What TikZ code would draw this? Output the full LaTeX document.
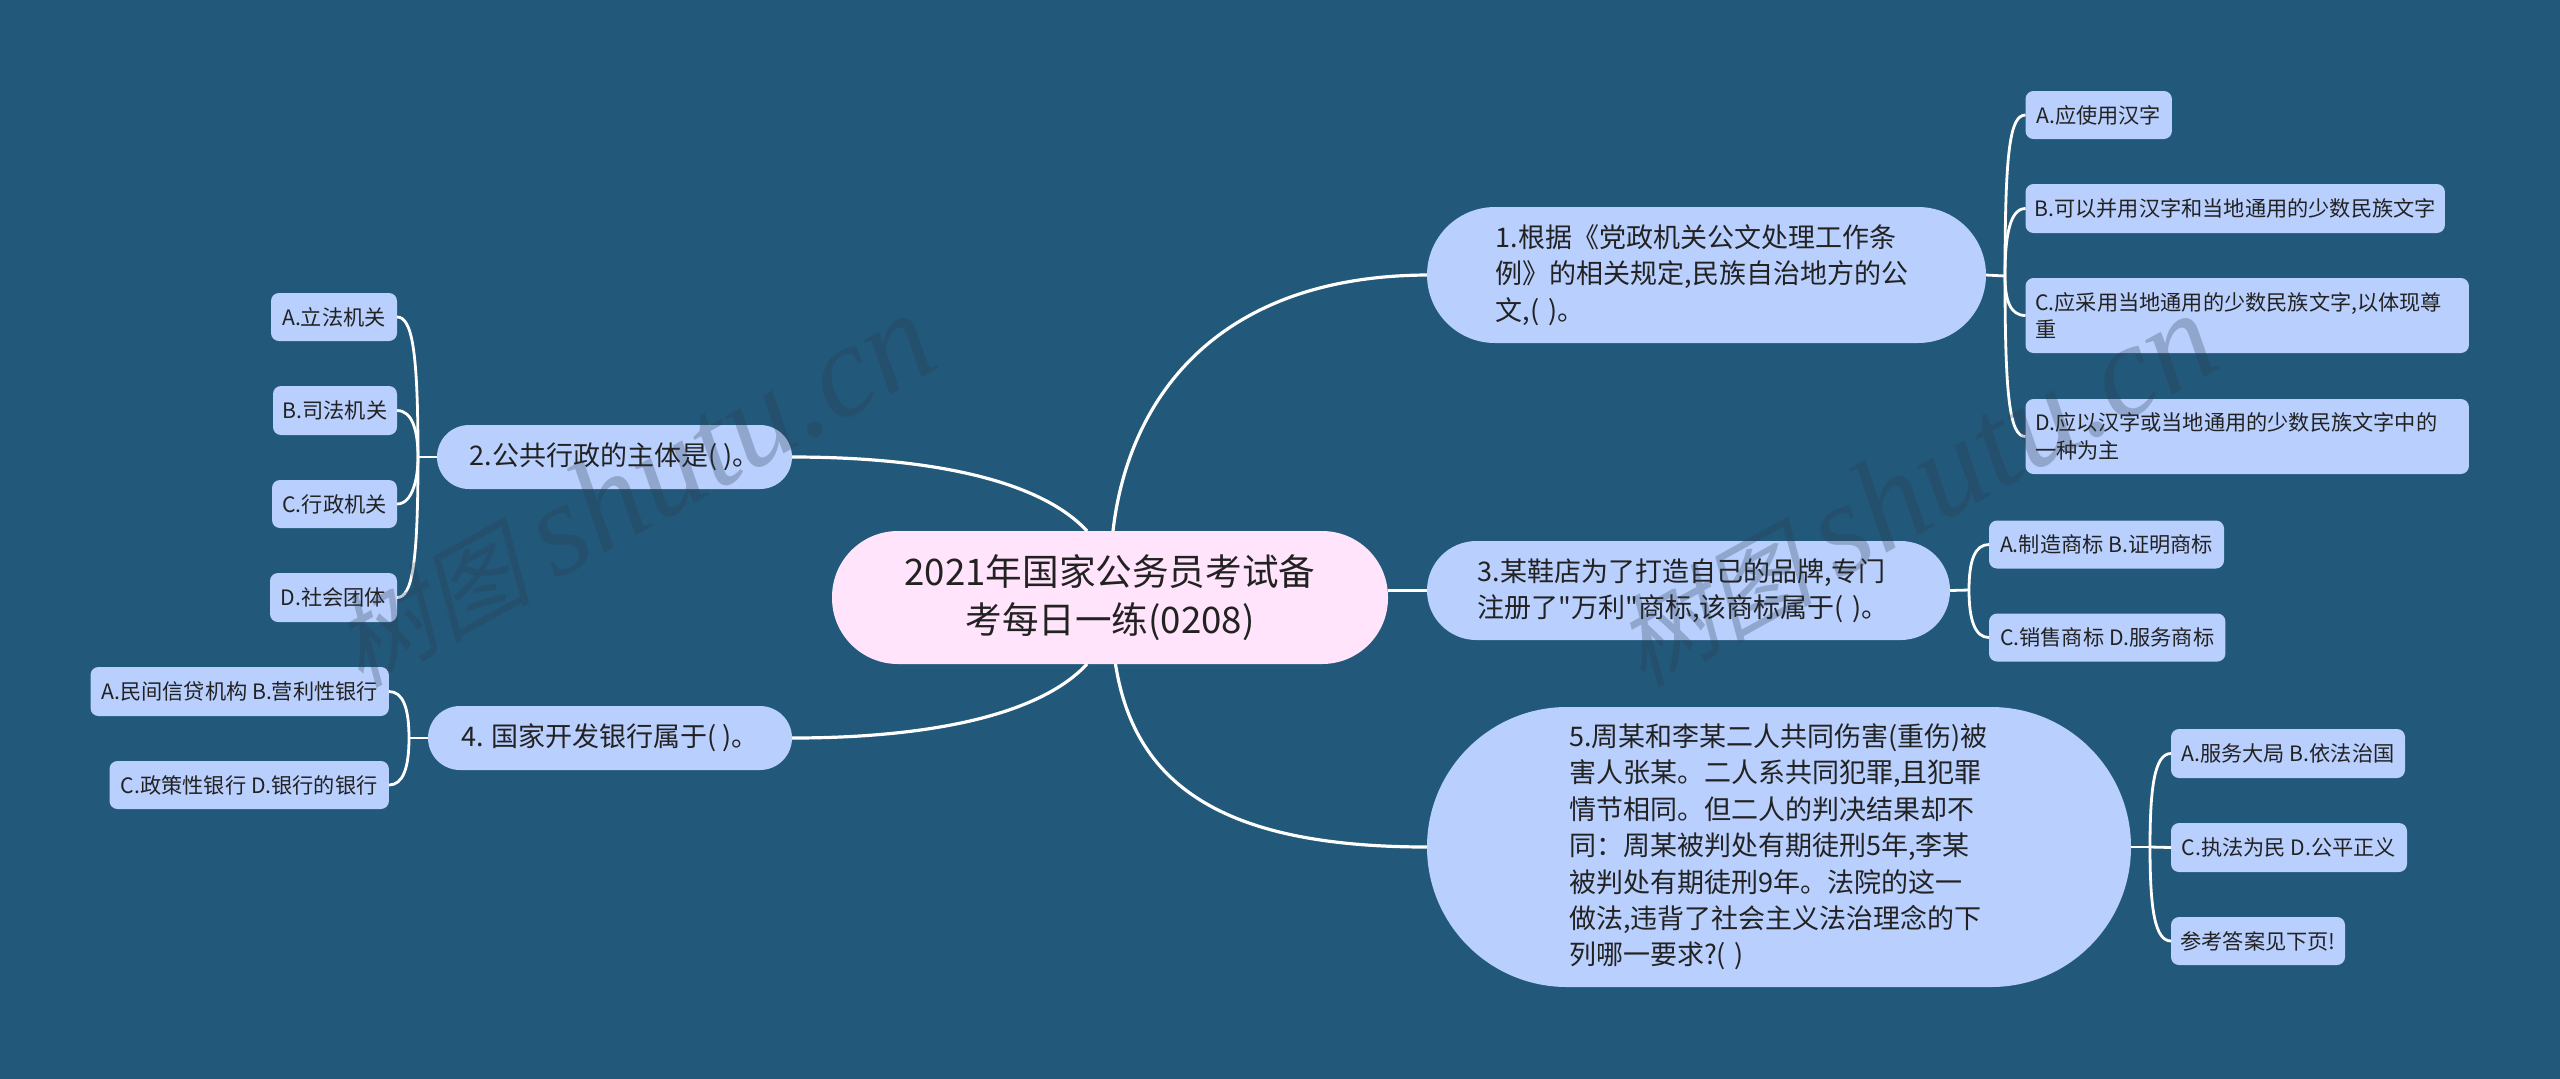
\documentclass[tikz,border=0pt]{standalone}
\usepackage{fontspec}
\newfontfamily\cjkf{Noto Sans CJK SC}
\setmainfont{Noto Sans CJK SC}
\newfontfamily\wmcjk[FakeSlant=0.25]{Noto Sans CJK SC}
\newfontfamily\wmlat{Liberation Serif}
\definecolor{bgc}{HTML}{22587A}
\definecolor{nodec}{HTML}{B9CFFD}
\definecolor{rootc}{HTML}{FFE4FC}
\definecolor{inkc}{HTML}{222222}
\definecolor{markc}{HTML}{2C3E50}
\tikzset{
  x=0.5pt,y=-0.5pt,
  box/.style={fill=nodec,text=inkc,inner sep=0pt,outer sep=0pt,align=center},
  rootbox/.style={fill=rootc,text=inkc,inner sep=0pt,outer sep=0pt,align=center,
     font=\cjkf\fontsize{18.3}{24}\selectfont,minimum width=278pt,minimum height=66.5pt,rounded corners=33pt},
  topic/.style={box,font=\cjkf\fontsize{13.5}{18.2}\selectfont},
  leaf/.style={box,font=\cjkf\fontsize{10.6}{13.8}\selectfont,rounded corners=4pt},
  wire/.style={draw=white,line width=1.6pt},
  thin wire/.style={draw=white,line width=1.4pt},
  mark text/.style={rotate=29,anchor=base,text=markc,opacity=0.28,inner sep=0pt}
}
\begin{document}
\begin{tikzpicture}
\useasboundingbox (0,0) rectangle (2560,1078);
\fill[bgc] (-6,-6) rectangle (2566,1084);
\coordinate (r1) at (1113,531);
\coordinate (r2) at (1087,531);
\coordinate (r4) at (1087,664);
\coordinate (r5) at (1115.5,664);
% root
\node[rootbox] (root) at (1110,597.5) {2021年国家公务员考试备\\考每日一练(0208)};
% topics
\node[topic,minimum width=279.5pt,minimum height=68pt,rounded corners=34pt,text width=211pt,align=left] (t1) at (1706.5,275) {1.根据《党政机关公文处理工作条\\例》的相关规定,民族自治地方的公\\文,( )。};
\node[topic,minimum width=177.5pt,minimum height=32pt,rounded corners=16pt] (t2) at (614.5,457) {2.公共行政的主体是( )。};
\node[topic,minimum width=261.5pt,minimum height=49.5pt,rounded corners=24.7pt,text width=211pt,align=left] (t3) at (1688.5,590.5) {3.某鞋店为了打造自己的品牌,专门\\注册了"万利"商标,该商标属于( )。};
\node[topic,minimum width=182pt,minimum height=32pt,rounded corners=16pt] (t4) at (610,738) {4. 国家开发银行属于( )。};
\node[topic,minimum width=352pt,minimum height=140pt,rounded corners=70pt,text width=210pt,align=left] (t5) at (1779,847) {5.周某和李某二人共同伤害(重伤)被\\害人张某。二人系共同犯罪,且犯罪\\情节相同。但二人的判决结果却不\\同：周某被判处有期徒刑5年,李某\\被判处有期徒刑9年。法院的这一\\做法,违背了社会主义法治理念的下\\列哪一要求?( )};
% leaves of topic 1
\node[leaf,minimum width=73.2pt,minimum height=24pt] (a1) at (2098.7,115) {A.应使用汉字};
\node[leaf,minimum width=209.7pt,minimum height=24.5pt] (a2) at (2235.2,208.5) {B.可以并用汉字和当地通用的少数民族文字};
\node[leaf,minimum width=221.7pt,minimum height=37.5pt,text width=212pt,align=left] (a3) at (2247.2,315.5) {C.应采用当地通用的少数民族文字,以体现尊\\重};
\node[leaf,minimum width=221.7pt,minimum height=37.5pt,text width=212pt,align=left] (a4) at (2247.2,436.5) {D.应以汉字或当地通用的少数民族文字中的\\一种为主};
% leaves of topic 2
\node[leaf,minimum width=63pt,minimum height=24pt] (b1) at (334,317) {A.立法机关};
\node[leaf,minimum width=62pt,minimum height=24.5pt] (b2) at (335,410.5) {B.司法机关};
\node[leaf,minimum width=62.5pt,minimum height=24pt] (b3) at (334.5,504) {C.行政机关};
\node[leaf,minimum width=63.5pt,minimum height=24.5pt] (b4) at (333.5,597.5) {D.社会团体};
% leaves of topic 3
\node[leaf,minimum width=117.5pt,minimum height=24pt] (c1) at (2106.5,544.5) {A.制造商标 B.证明商标};
\node[leaf,minimum width=118.2pt,minimum height=24pt] (c2) at (2107.2,637.5) {C.销售商标 D.服务商标};
% leaves of topic 4
\node[leaf,minimum width=149.2pt,minimum height=24.5pt] (d1) at (239.7,691.5) {A.民间信贷机构 B.营利性银行};
\node[leaf,minimum width=139.7pt,minimum height=24pt] (d2) at (249.2,785) {C.政策性银行 D.银行的银行};
% leaves of topic 5
\node[leaf,minimum width=117pt,minimum height=24.5pt] (e1) at (2288,753.5) {A.服务大局 B.依法治国};
\node[leaf,minimum width=118pt,minimum height=24.5pt] (e2) at (2289,847.5) {C.执法为民 D.公平正义};
\node[leaf,minimum width=87pt,minimum height=24pt] (e3) at (2258,941) {参考答案见下页!};
% junctions
\coordinate (j1) at (2005,276);
\coordinate (j2) at (418,457);
\coordinate (j3) at (1969,590);
\coordinate (j4) at (409,738);
\coordinate (j5) at (2150,847);
% root connectors
\draw[wire] (r1) .. controls (1128,400) and (1215,276) .. (t1.west);
\draw[wire] (r2) .. controls (1040,480) and (930,457) .. (t2.east);
\draw[wire] (root.east |- t3.west) -- (t3.west);
\draw[wire] (r4) .. controls (1040,715) and (930,738) .. (t4.east);
\draw[wire] (r5) .. controls (1135,790) and (1230,847) .. (t5.west);
% topic 1 connectors
\draw[thin wire] (t1.east) -- (j1);
\draw[thin wire] (j1) .. controls (2005,150) and (2010,115) .. (a1.west);
\draw[thin wire] (j1) .. controls (2005,235) and (2010,208.5) .. (a2.west);
\draw[thin wire] (j1) .. controls (2005,300) and (2010,315.5) .. (a3.west);
\draw[thin wire] (j1) .. controls (2005,400) and (2010,436.5) .. (a4.west);
% topic 2 connectors
\draw[thin wire] (t2.west) -- (j2);
\draw[thin wire] (j2) .. controls (418,350) and (412,317) .. (b1.east);
\draw[thin wire] (j2) .. controls (418,430) and (412,410.5) .. (b2.east);
\draw[thin wire] (j2) .. controls (418,480) and (412,504) .. (b3.east);
\draw[thin wire] (j2) .. controls (418,565) and (412,597.5) .. (b4.east);
% topic 3 connectors
\draw[thin wire] (t3.east) -- (j3);
\draw[thin wire] (j3) .. controls (1969,560) and (1975,544.5) .. (c1.west);
\draw[thin wire] (j3) .. controls (1969,620) and (1975,637.5) .. (c2.west);
% topic 4 connectors
\draw[thin wire] (t4.west) -- (j4);
\draw[thin wire] (j4) .. controls (409,708) and (403,691.5) .. (d1.east);
\draw[thin wire] (j4) .. controls (409,768) and (403,785) .. (d2.east);
% topic 5 connectors
\draw[thin wire] (t5.east) -- (j5);
\draw[thin wire] (j5) .. controls (2150,785) and (2155,753.5) .. (e1.west);
\draw[thin wire] (j5) -- (e2.west);
\draw[thin wire] (j5) .. controls (2150,910) and (2155,941) .. (e3.west);
% watermarks
\node[mark text] (m1) at (652,527) {{\wmcjk\fontsize{50}{50}\selectfont 树图}\hspace{12pt}{\wmlat\itshape\fontsize{66}{66}\selectfont shutu.cn}};
\node[mark text] (m2) at (1934,527) {{\wmcjk\fontsize{50}{50}\selectfont 树图}\hspace{12pt}{\wmlat\itshape\fontsize{66}{66}\selectfont shutu.cn}};
\end{tikzpicture}
\end{document}
